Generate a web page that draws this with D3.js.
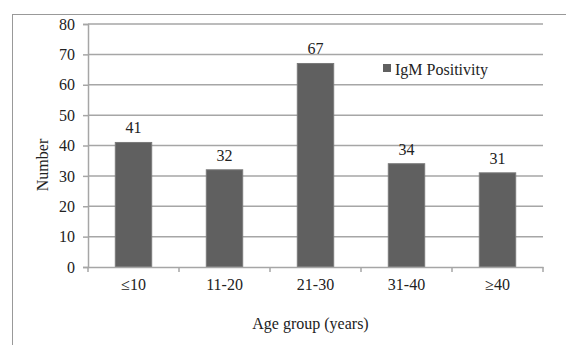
<!DOCTYPE html>
<html>
<head>
<meta charset="utf-8">
<script src="https://cdn.jsdelivr.net/npm/d3@7"></script>
<style>
html,body{margin:0;padding:0;background:#fff;}
svg{display:block;}
</style>
</head>
<body>
<script>
const categories = ["\u226410", "11-20", "21-30", "31-40", "\u226540"];
const values = [41, 32, 67, 34, 31];
const yTicks = [0, 10, 20, 30, 40, 50, 60, 70, 80];
const seriesName = "IgM Positivity";
const xTitle = "Age group (years)";
const yTitle = "Number";

(function () {
const W = 566, H = 345;
const FONT = "'Liberation Serif'";
const svg = d3.select("body").append("svg").attr("width", W).attr("height", H)
  .style("font-family", FONT);

// outer frame (top and left visible)
svg.append("line").attr("x1", 13).attr("x2", W).attr("y1", 14.5).attr("y2", 14.5).attr("stroke", "#999").attr("stroke-width", 1);
svg.append("line").attr("x1", 12.5).attr("x2", 12.5).attr("y1", 14).attr("y2", H).attr("stroke", "#999").attr("stroke-width", 1);

const pL = 88, pR = 543, pT = 24, pB = 267;
const x = d3.scaleBand().domain(categories).range([pL, pR]).paddingInner(0.6).paddingOuter(0.3);
const xb = d3.scaleBand().domain(categories).range([pL, pR]).padding(0);
const y = d3.scaleLinear().domain([0, 80]).range([pB, pT]);

// gridlines
svg.append("g").selectAll("line").data(yTicks.filter(d => d > 0)).join("line")
  .attr("x1", pL).attr("x2", pR)
  .attr("y1", d => y(d)).attr("y2", d => y(d))
  .attr("stroke", "#a6a6a6").attr("stroke-width", 1.5);

// y axis
const yAxis = svg.append("g").attr("transform", `translate(${pL},0)`)
  .call(d3.axisLeft(y).tickValues(yTicks).tickSize(5).tickPadding(8));
yAxis.attr("font-family", null).attr("font-size", null);
yAxis.select(".domain").attr("stroke", "#a6a6a6").attr("stroke-width", 1.5);
yAxis.selectAll(".tick line").attr("stroke", "#a6a6a6").attr("stroke-width", 1.5);
yAxis.selectAll("text").style("font-size", "16px").attr("fill", "#222").style("font-family", FONT);

// bars
svg.append("g").selectAll("rect").data(values).join("rect")
  .attr("x", (d, i) => x(categories[i]))
  .attr("width", x.bandwidth())
  .attr("y", d => y(d))
  .attr("height", d => y(0) - y(d))
  .attr("fill", "#606060").attr("stroke", "#7a7a7a").attr("stroke-width", 1);

// x axis
const xAxis = svg.append("g").attr("transform", `translate(0,${pB})`)
  .call(d3.axisBottom(xb).tickSize(0).tickPadding(12));
xAxis.attr("font-family", null).attr("font-size", null);
xAxis.select(".domain").attr("stroke", "#a6a6a6").attr("stroke-width", 1.5);
xAxis.selectAll("text").style("font-size", "16px").attr("fill", "#222").style("font-family", FONT);
// x tick marks at category boundaries
const bounds = categories.map(c => xb(c)).concat([pR]);
svg.append("g").selectAll("line").data(bounds).join("line")
  .attr("x1", d => d).attr("x2", d => d)
  .attr("y1", pB).attr("y2", pB + 5)
  .attr("stroke", "#a6a6a6").attr("stroke-width", 1.5);

// value labels
svg.append("g").selectAll("text").data(values).join("text")
  .attr("x", (d, i) => x(categories[i]) + x.bandwidth() / 2)
  .attr("y", d => y(d) - 9)
  .attr("text-anchor", "middle").style("font-size", "16px").style("font-family", FONT).attr("fill", "#222")
  .text(d => d);

// legend
svg.append("rect").attr("x", 383).attr("y", 64).attr("width", 8).attr("height", 8).attr("fill", "#606060");
svg.append("text").attr("x", 395).attr("y", 74.5).style("font-size", "16px").style("font-family", FONT).attr("fill", "#222").text(seriesName);

// axis titles
svg.append("text").attr("x", (pL + pR) / 2 - 5).attr("y", 329)
  .attr("text-anchor", "middle").style("font-size", "16px").style("font-family", FONT).attr("fill", "#222").text(xTitle);
svg.append("text").attr("transform", "translate(48,165) rotate(-90)")
  .attr("text-anchor", "middle").style("font-size", "16px").style("font-family", FONT).attr("fill", "#222").text(yTitle);
})();
</script>
</body>
</html>
